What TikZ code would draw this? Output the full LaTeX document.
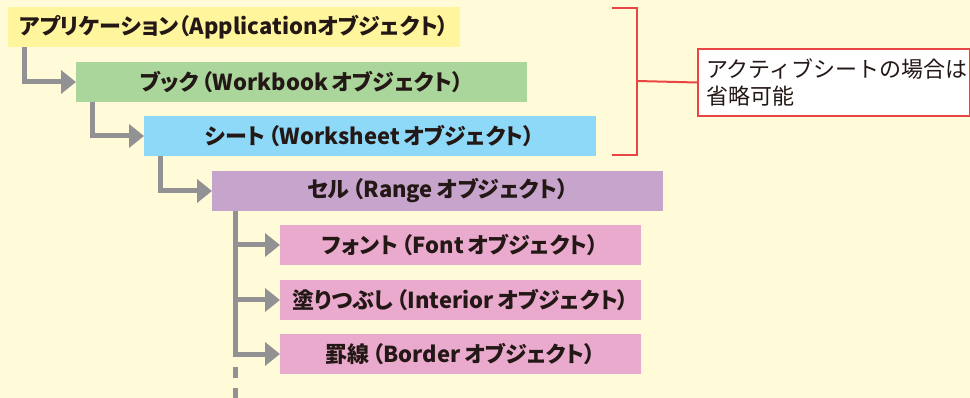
\documentclass[tikz,border=0pt]{standalone}
\usepackage{fontspec}
\setmainfont{Noto Sans CJK JP}
\newfontfamily\jpbold{Noto Sans CJK JP}[RawFeature=+palt]
\usetikzlibrary{arrows.meta}
\definecolor{bgc}{HTML}{FFFAD7}
\definecolor{appc}{HTML}{FFF59C}
\definecolor{bookc}{HTML}{AAD59B}
\definecolor{sheetc}{HTML}{8ED8F8}
\definecolor{rangec}{HTML}{C7A4CC}
\definecolor{childc}{HTML}{EAAACD}
\definecolor{connc}{HTML}{929295}
\definecolor{redc}{HTML}{E94545}
\definecolor{txtc}{HTML}{231815}
\newcommand{\pgap}{\hspace{0.15em}}
\tikzset{
  objbox/.style={anchor=north west, minimum height=40pt, inner sep=0pt, outer sep=0pt,
    text=txtc, font=\jpbold\fontsize{22}{26}\selectfont\bfseries},
  conn/.style={draw=connc, line width=5pt},
  arr/.style={conn, -{Triangle[width=23pt,length=15pt]}},
  redline/.style={draw=redc, line width=2pt},
}
\begin{document}
\begin{tikzpicture}[x=1pt,y=-1pt]
\useasboundingbox (0,0) rectangle (970,398);
\fill[bgc] (0,0) rectangle (970,398);
\node[objbox, fill=appc, minimum width=452pt] (app) at (8,7) {アプリケーション（Applicationオブジェクト）};
\node[objbox, fill=bookc, minimum width=451pt] (book) at (76,62) {ブック\pgap（Workbook\,オブジェクト）};
\node[objbox, fill=sheetc, minimum width=452pt] (sheet) at (144,116) {シート\pgap（Worksheet\,オブジェクト）};
\node[objbox, fill=rangec, minimum width=451pt] (range) at (212,171) {セル\pgap（Range\,オブジェクト）};
\node[objbox, fill=childc, minimum width=361pt] (font) at (280,225) {フォント\pgap（Font\,オブジェクト）};
\node[objbox, fill=childc, minimum width=361pt] (interior) at (280,280) {塗りつぶし\pgap（Interior\,オブジェクト）};
\node[objbox, fill=childc, minimum width=361pt] (border) at (280,334) {罫線\pgap（Border\,オブジェクト）};
% connectors
\draw[arr] ([xshift=16.5pt]app.south west) |- (book.west);
\draw[arr] ([xshift=16.5pt]book.south west) |- (sheet.west);
\draw[arr] ([xshift=16.5pt]sheet.south west) |- (range.west);
\coordinate (trunkTop) at ([xshift=23.5pt]range.south west);
\coordinate (trunkEnd) at (235.5,356.5);
\coordinate (dashA) at (235.5,367);
\coordinate (dashB) at (235.5,400);
\draw[conn] (trunkTop) -- (trunkEnd);
\draw[conn, dash pattern=on 11pt off 10pt] (dashA) -- (dashB);
\draw[arr] (trunkTop |- font.west) -- (font.west);
\draw[arr] (trunkTop |- interior.west) -- (interior.west);
\draw[arr] (trunkTop |- border.west) -- (border.west);
% note
\node[anchor=north west, draw=redc, line width=2pt, fill=white, minimum width=272pt, minimum height=67pt,
  inner sep=0pt, text width=256pt, align=left, text=txtc, font=\fontsize{22}{27}\selectfont] (note) at (697,48)
  {アクティブシートの場合は\\省略可能};
\coordinate (brTop) at (612,8);
\coordinate (brBot) at (612,155);
\draw[redline] (brTop) -- (637,8) -- (637,155) -- (brBot);
\draw[redline] (637,81) -- (note.west);
\end{tikzpicture}
\end{document}
